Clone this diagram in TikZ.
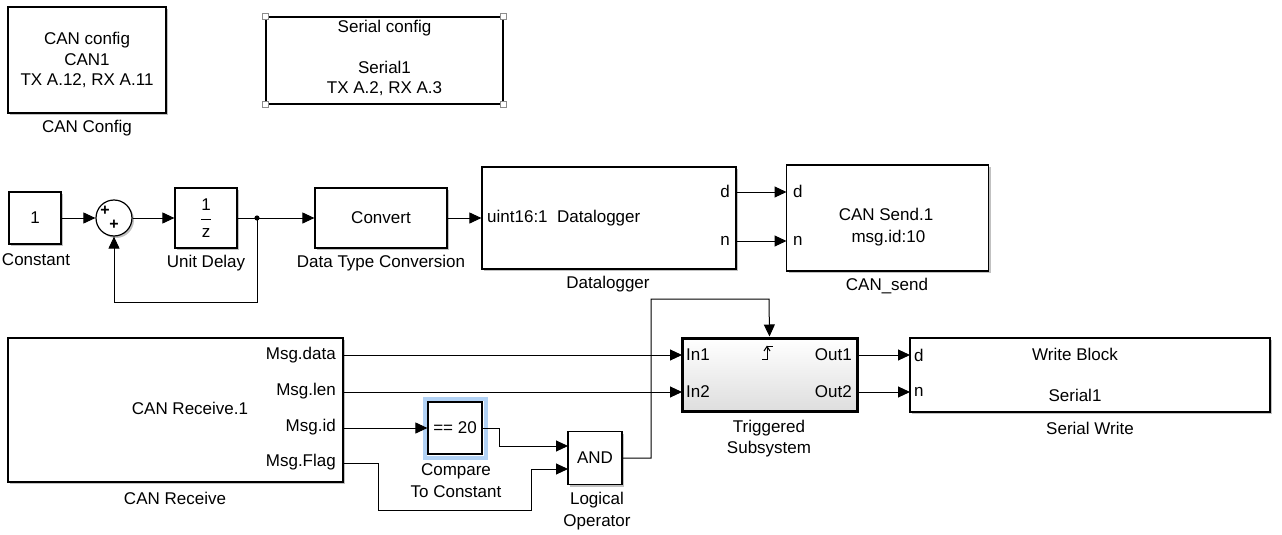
\documentclass[tikz,border=0pt]{standalone}
\usepackage{fontspec}
\setmainfont{Liberation Sans}
\usetikzlibrary{arrows.meta,shadows}
\definecolor{selblue}{RGB}{178,210,245}
\begin{document}
\begin{tikzpicture}[x=1pt,y=-1pt,
  every node/.style={font=\fontsize{17}{20.5}\selectfont, inner sep=0pt},
  blk/.style={draw, line width=1.2pt, fill=white, rectangle,
    drop shadow={shadow xshift=2pt,shadow yshift=-2pt,fill=black!40,opacity=0.6}},
  plainblk/.style={draw, line width=1.2pt, fill=white, rectangle},
  sig/.style={line width=1pt, -{Triangle[length=12pt,width=11pt]}},
  wire/.style={line width=1pt},
  lbl/.style={align=center},
  handle/.style={draw=black!45, fill=white, line width=0.8pt, minimum size=6pt, rectangle}
]
\useasboundingbox[fill=white] (0,0) rectangle (1282,535);

% ---------- config blocks ----------
\node[blk, minimum width=158, minimum height=106, align=center] (cancfg) at (87,60)
  {CAN config\\CAN1\\TX A.12, RX A.11};
\node[lbl] (cancfgl) at (87,128) {CAN Config};

\node[plainblk, minimum width=237, minimum height=87] (sercfg) at (384.5,60.5) {};
\node[align=center] (sercfgt) at (384.5,58) {Serial config\\[20.5pt]Serial1\\TX A.2, RX A.3};
\node[handle] (h1) at (sercfg.north west) {};
\node[handle] (h2) at (sercfg.north east) {};
\node[handle] (h3) at (sercfg.south west) {};
\node[handle] (h4) at (sercfg.south east) {};

% ---------- top chain ----------
\node[blk, minimum width=52, minimum height=52] (const) at (35,218) {1};
\node (constl) at (36,260) {Constant};

\node[circle, draw, line width=1.2pt, fill=white, minimum size=36,
  drop shadow={shadow xshift=2pt,shadow yshift=-2pt,fill=black!40,opacity=0.6}] (sum) at (114,218) {};
\node[font=\fontsize{16}{16}\selectfont\bfseries] (sp1) at (105,211) {+};
\node[font=\fontsize{16}{16}\selectfont\bfseries] (sp2) at (114,225) {+};

\node[blk, minimum width=62, minimum height=60] (delay) at (206,218) {};
\node (d1) at (206,205) {1};
\node (dz) at (206,233) {z};
\draw[line width=1pt] (201,219) -- (211,219);
\node (delayl) at (206,263) {Unit Delay};

\node[blk, minimum width=132, minimum height=60] (conv) at (381,218) {Convert};
\node (convl) at (381,263) {Data Type Conversion};

\node[blk, minimum width=254, minimum height=102] (dlog) at (609,218) {};
\node[anchor=west] (dlogt) at (487,218) {uint16:1\ \ Datalogger};
\node[anchor=east] (dlogd) at (730,191) {d};
\node[anchor=east] (dlogn) at (730,241) {n};
\node (dlogl) at (608,284) {Datalogger};

\node[blk, minimum width=202, minimum height=106] (cans) at (887.5,218) {};
\node[anchor=west] (cansd) at (793,191) {d};
\node[anchor=west] (cansn) at (793,241) {n};
\node[align=center] (canst) at (886,227) {CAN Send.1\\[1pt]\ msg.id:10};
\node (cansl) at (887,286) {CAN\_send};

% ---------- bottom row ----------
\node[blk, minimum width=335, minimum height=144] (canrx) at (175.5,410) {};
\node (canrxt) at (190,408) {CAN Receive.1};
\node[anchor=east] (prdata) at (336,355) {Msg.data};
\node[anchor=east] (prlen) at (336,391) {Msg.len};
\node[anchor=east] (prid) at (336,427) {Msg.id};
\node[anchor=east] (prflag) at (336,462) {Msg.Flag};
\node (canrxl) at (175,498) {CAN Receive};

\draw[selblue, line width=4pt] (424.5,398.5) rectangle (486,457.5);
\node[plainblk, minimum width=54, minimum height=52] (cmp) at (455,428) {== 20};
\node[align=center] (cmpl) at (456,481) {Compare\\[1.5pt]To Constant};

\node[blk, minimum width=54, minimum height=53] (and) at (595,458) {AND};
\node[align=center] (andl) at (597,511) {Logical\\[1.5pt]Operator};

\node[draw, line width=3pt, minimum width=175, minimum height=73, rectangle,
  top color=white, bottom color=black!13,
  drop shadow={shadow xshift=2pt,shadow yshift=-2pt,fill=black!40,opacity=0.6}] (trig) at (769.5,374.5) {};
\node[anchor=west] (tin1) at (686,355) {In1};
\node[anchor=west] (tin2) at (686,392) {In2};
\node[anchor=east] (tout1) at (852,355) {Out1};
\node[anchor=east] (tout2) at (852,392) {Out2};
\draw[line width=1pt] (762,359) -- (767,359) -- (767,346) -- (773,346);
\draw[line width=1pt] (764,351) -- (767,346.5) -- (770,351);
\node[align=center] (trigl) at (769,438.5) {Triggered\\[1pt]Subsystem};

\node[blk, minimum width=360, minimum height=74] (sw) at (1090,375) {};
\node[anchor=west] (swd) at (914,355) {d};
\node[anchor=west] (swn) at (914,392) {n};
\node (swt1) at (1075,354) {Write Block};
\node (swt2) at (1075,395) {Serial1};
\node (swl) at (1090,428) {Serial Write};

% ---------- ports ----------
\coordinate (branch) at (257,218);
\coordinate (fb1) at (257,302);
\coordinate (fb2) at (114,302);
\coordinate (dlogdo) at (736,192);
\coordinate (dlogno) at (736,241);
\coordinate (cansdi) at (786.5,192);
\coordinate (cansni) at (786.5,241);
\coordinate (crdata) at (343,355);
\coordinate (crlen) at (343,392);
\coordinate (crid) at (343,428);
\coordinate (crflag) at (343,463);
\coordinate (tsin1) at (682,355);
\coordinate (tsin2) at (682,392);
\coordinate (tsout1) at (857,355);
\coordinate (tsout2) at (857,392);
\coordinate (swdi) at (910,355);
\coordinate (swni) at (910,392);
\coordinate (cmpb1) at (499,428);
\coordinate (cmpb2) at (499,446);
\coordinate (andi1) at (568,446);
\coordinate (fl1) at (378,463);
\coordinate (fl2) at (378,510);
\coordinate (fl3) at (531,510);
\coordinate (fl4) at (531,469);
\coordinate (andi2) at (568,469);
\coordinate (ao1) at (651,458);
\coordinate (ao2) at (651,299);
\coordinate (ao3) at (769,299);

% ---------- connectors ----------
\draw[sig] (const.east) -- (sum.west);
\draw[sig] (sum.east) -- (delay.west);
\draw[sig] (delay.east) -- (conv.west);
\fill (branch) circle (2.6);
\draw[sig] (branch) -- (fb1) -- (fb2) -- (sum.south);
\draw[sig] (conv.east) -- (dlog.west);
\draw[sig] (dlogdo) -- (cansdi);
\draw[sig] (dlogno) -- (cansni);

\draw[sig] (crdata) -- (tsin1);
\draw[sig] (crlen) -- (tsin2);
\draw[sig] (crid) -- (cmp.west);
\draw[sig] (cmp.east |- cmpb1) -- (cmpb1) -- (cmpb2) -- (andi1);
\draw[sig] (crflag) -- (fl1) -- (fl2) -- (fl3) -- (fl4) -- (andi2);
\draw[sig] (and.east |- ao1) -- (ao1) -- (ao2) -- (ao3) -- (trig.north);
\draw[sig] (tsout1) -- (swdi);
\draw[sig] (tsout2) -- (swni);
\end{tikzpicture}
\end{document}
